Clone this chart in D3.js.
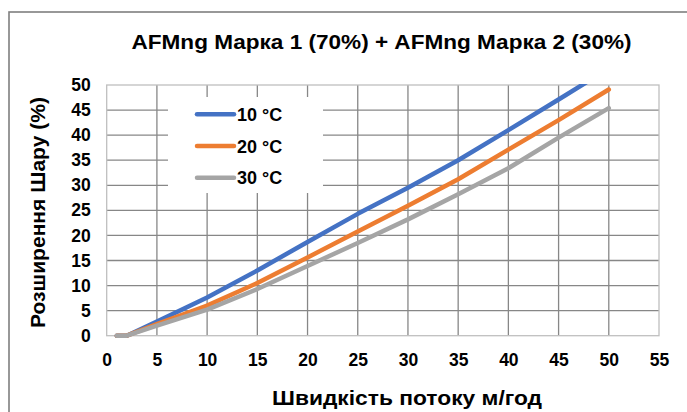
<!DOCTYPE html>
<html>
<head>
<meta charset="utf-8">
<script src="https://cdn.jsdelivr.net/npm/d3@7"></script>
<style>
  body { margin: 0; background: #fff; }
  svg { display: block; font-family: "Liberation Sans", Arial, sans-serif; }
</style>
</head>
<body>
<svg id="chart" width="687" height="412"></svg>
<script>
// flow rate (m/h) and layer expansion (%) per water temperature
const flow = [1, 2, 5, 10, 15, 20, 25, 30, 35, 40, 45, 50];
const exp10 = [0, 0, 2.8, 7.6, 13.0, 18.7, 24.3, 29.5, 35.0, 41.0, 47.1, 53.3];
const exp20 = [0, 0, 2.3, 6.0, 10.5, 15.6, 20.8, 25.9, 31.2, 37.1, 43.0, 49.1];
const exp30 = [0, 0, 2.0, 5.2, 9.3, 13.9, 18.5, 23.2, 28.2, 33.4, 39.5, 45.4];
const seriesNames = ["10 °C", "20 °C", "30 °C"];
const colors = ["#4472C4", "#ED7D31", "#A5A5A5"];
const xTicks = d3.range(0, 56, 5);
const yTicks = d3.range(0, 51, 5);

const svg = d3.select("#chart");

// outer chart frame (runs off the right/bottom edge)
svg.append("rect")
    .attr("x", 9).attr("y", 12)
    .attr("width", 700).attr("height", 420)
    .attr("fill", "#fff")
    .attr("stroke", "#7f7f7f")
    .attr("stroke-width", 1.6);

const margin = {left: 106.7, right: 659, top: 85, bottom: 335.7};

const x = d3.scaleLinear().domain([0, 55]).range([margin.left, margin.right]);
const y = d3.scaleLinear().domain([0, 50]).range([margin.bottom, margin.top]);

// grid
const grid = svg.append("g");
grid.selectAll(".vg")
    .data(xTicks.filter(d => d > 0 && d < 55))
    .enter().append("line")
    .attr("x1", d => x(d)).attr("x2", d => x(d))
    .attr("y1", y(50)).attr("y2", y(0))
    .attr("stroke", "#878787").attr("stroke-width", 1.3);
grid.selectAll(".hg")
    .data(yTicks.filter(d => d > 0 && d < 50))
    .enter().append("line")
    .attr("x1", x(0)).attr("x2", x(55))
    .attr("y1", d => y(d)).attr("y2", d => y(d))
    .attr("stroke", "#878787").attr("stroke-width", 1.3);

// plot border
svg.append("rect")
    .attr("x", x(0)).attr("y", y(50))
    .attr("width", x(55) - x(0)).attr("height", y(0) - y(50))
    .attr("fill", "none")
    .attr("stroke", "#bfbfbf").attr("stroke-width", 1.3);

// axes labels
const xAxis = d3.axisBottom(x).tickValues(xTicks).tickSize(0).tickPadding(18);
svg.append("g")
    .attr("transform", `translate(0,${y(0)})`)
    .call(xAxis)
    .call(g => g.select(".domain").remove())
    .selectAll("text")
    .attr("font-size", 17.5).attr("font-weight", "bold")
    .attr("font-family", "Liberation Sans, Arial, sans-serif")
    .attr("fill", "#000");

const yAxis = d3.axisLeft(y).tickValues(yTicks).tickSize(0).tickPadding(16);
svg.append("g")
    .attr("transform", `translate(${x(0)},0)`)
    .call(yAxis)
    .call(g => g.select(".domain").remove())
    .selectAll("text")
    .attr("font-size", 17.5).attr("font-weight", "bold")
    .attr("font-family", "Liberation Sans, Arial, sans-serif")
    .attr("fill", "#000");

// lines
svg.append("clipPath").attr("id", "clip")
    .append("rect")
    .attr("x", x(0)).attr("y", y(50) - 1)
    .attr("width", x(55) - x(0)).attr("height", y(0) - y(50) + 4);

const line = d3.line()
    .x((d, i) => x(flow[i]))
    .y(d => y(d));

[exp10, exp20, exp30].forEach((vals, i) => {
    svg.append("path")
        .datum(vals)
        .attr("clip-path", "url(#clip)")
        .attr("d", line)
        .attr("fill", "none")
        .attr("stroke", colors[i])
        .attr("stroke-width", 4.5)
        .attr("stroke-linejoin", "round")
        .attr("stroke-linecap", "round");
});

// legend
const legend = svg.append("g");
legend.append("rect")
    .attr("x", 168).attr("y", 97)
    .attr("width", 155).attr("height", 96)
    .attr("fill", "#fff");
seriesNames.forEach((name, i) => {
    const ly = 114.3 + i * 31.7;
    legend.append("line")
        .attr("x1", 197).attr("x2", 234)
        .attr("y1", ly).attr("y2", ly)
        .attr("stroke", colors[i]).attr("stroke-width", 4.5)
        .attr("stroke-linecap", "round");
    legend.append("text")
        .attr("x", 237).attr("y", ly + 6.7)
        .attr("font-size", 18).attr("font-weight", "bold")
        .text(name);
});

// titles
svg.append("text")
    .attr("x", 131.5).attr("y", 49)
    .attr("font-size", 21).attr("font-weight", "bold")
    .attr("textLength", 500).attr("lengthAdjust", "spacingAndGlyphs")
    .text("AFMng Марка 1 (70%) + AFMng Марка 2 (30%)");

svg.append("text")
    .attr("x", 272).attr("y", 405)
    .attr("font-size", 21).attr("font-weight", "bold")
    .attr("textLength", 270).attr("lengthAdjust", "spacingAndGlyphs")
    .text("Швидкість потоку м/год");

svg.append("text")
    .attr("transform", "translate(45,328) rotate(-90)")
    .attr("font-size", 21).attr("font-weight", "bold")
    .attr("textLength", 231).attr("lengthAdjust", "spacingAndGlyphs")
    .text("Розширення Шару (%)");
</script>
</body>
</html>
